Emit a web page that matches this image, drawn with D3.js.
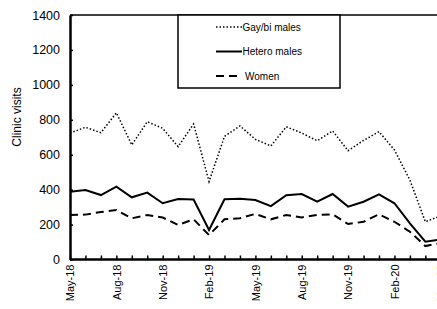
<!DOCTYPE html>
<html>
<head>
<meta charset="utf-8">
<script src="https://cdn.jsdelivr.net/npm/d3@7"></script>
<style>
  body { margin: 0; background: #fff; }
  svg { display: block; font-family: Arial, "Liberation Sans", sans-serif; }
</style>
</head>
<body>
<div id="chart"></div>
<script>
// months shown on the axis, May-18 .. May-20
const months = ['May-18','Jun-18','Jul-18','Aug-18','Sep-18','Oct-18','Nov-18','Dec-18','Jan-19',
  'Feb-19','Mar-19','Apr-19','May-19','Jun-19','Jul-19','Aug-19','Sep-19','Oct-19','Nov-19','Dec-19',
  'Jan-20','Feb-20','Mar-20','Apr-20','May-20'];

const gayBi  = [724, 757, 726, 840, 656, 789, 751, 646, 776, 446, 705, 765, 688, 650, 760, 724, 680, 736, 623, 682, 732, 627, 455, 216, 250];
const hetero = [388, 398, 369, 417, 356, 383, 322, 346, 343, 169, 345, 348, 341, 306, 368, 375, 331, 375, 303, 331, 373, 322, 207, 102, 115];
const women  = [255, 257, 272, 283, 236, 255, 240, 198, 230, 140, 230, 236, 261, 230, 255, 241, 255, 259, 203, 216, 259, 216, 159, 77, 95];

const yTicks = [0, 200, 400, 600, 800, 1000, 1200, 1400];

const seriesList = [
  { name: 'Gay/bi males', values: gayBi, dash: '1.5,2', width: 1.5 },
  { name: 'Hetero males', values: hetero, dash: null, width: 2 },
  { name: 'Women', values: women, dash: '8,5', width: 2 }
];

const width = 437, height = 309;
const margin = { top: 15, left: 70, bottom: 49.5 };
const step = 15.45;
const innerHeight = height - margin.top - margin.bottom;

const svg = d3.select('#chart').append('svg')
  .attr('width', width)
  .attr('height', height);

const x = d3.scalePoint()
  .domain(months)
  .range([0, step * (months.length - 1)]);

const y = d3.scaleLinear()
  .domain([0, 1400])
  .range([innerHeight, 0]);

const g = svg.append('g')
  .attr('transform', `translate(${margin.left},${margin.top})`);

// top border of the plot area
g.append('line')
  .attr('x1', 0).attr('x2', width)
  .attr('y1', 0).attr('y2', 0)
  .style('stroke', '#000')
  .style('stroke-width', 1.5);

// y axis, ticks point inward
const yAxis = g.append('g')
  .attr('class', 'y axis')
  .call(d3.axisLeft(y)
    .tickValues(yTicks)
    .tickFormat(d3.format('d'))
    .tickSizeInner(-3)
    .tickSizeOuter(0)
    .tickPadding(10));
yAxis.select('.domain').style('stroke-width', 2.5);
yAxis.selectAll('.tick line').style('stroke-width', 1.5);
yAxis.selectAll('text')
  .style('font-size', '12.5px')
  .style('fill', '#000');

// x axis, one tick per month, label every third
const xAxis = g.append('g')
  .attr('class', 'x axis')
  .attr('transform', `translate(0,${innerHeight})`)
  .call(d3.axisBottom(x)
    .tickSizeInner(-4)
    .tickSizeOuter(0)
    .tickFormat((d, i) => i % 3 === 0 ? d : ''));
xAxis.select('.domain')
  .attr('d', `M0,0H${width}`)
  .style('stroke-width', 2.5);
xAxis.selectAll('.tick line').style('stroke-width', 1.5);
xAxis.selectAll('text')
  .style('font-size', '11px')
  .style('fill', '#000')
  .attr('text-anchor', 'end')
  .attr('transform', 'rotate(-90)')
  .attr('x', -5)
  .attr('y', 0)
  .attr('dy', '0.35em');

// series lines
const line = d3.line()
  .x((d, i) => x(months[i]))
  .y(d => y(d));

g.selectAll('.series')
  .data(seriesList)
  .join('path')
  .attr('class', 'series')
  .attr('d', d => line(d.values))
  .style('fill', 'none')
  .style('stroke', '#000')
  .style('stroke-width', d => d.width)
  .style('stroke-dasharray', d => d.dash);

// y axis title
svg.append('text')
  .attr('transform', 'translate(21,117) rotate(-90)')
  .attr('text-anchor', 'middle')
  .style('font-size', '12px')
  .text('Clinic visits');

// legend box
const legend = svg.append('g').attr('class', 'legend');
legend.append('rect')
  .attr('x', 178).attr('y', 15)
  .attr('width', 162).attr('height', 73)
  .style('fill', '#fff')
  .style('stroke', '#000')
  .style('stroke-width', 1.5);

const rows = legend.selectAll('.row')
  .data(seriesList)
  .join('g')
  .attr('class', 'row')
  .attr('transform', (d, i) => `translate(216,${27 + i * 24.5})`);

rows.append('line')
  .attr('x1', 0).attr('x2', 26)
  .style('stroke', '#000')
  .style('stroke-width', d => d.width)
  .style('stroke-dasharray', d => d.dash);

rows.append('text')
  .attr('x', (d, i) => i === 2 ? 29 : 26.5)
  .attr('dy', '0.35em')
  .style('font-size', '10px')
  .text(d => d.name);
</script>
</body>
</html>
